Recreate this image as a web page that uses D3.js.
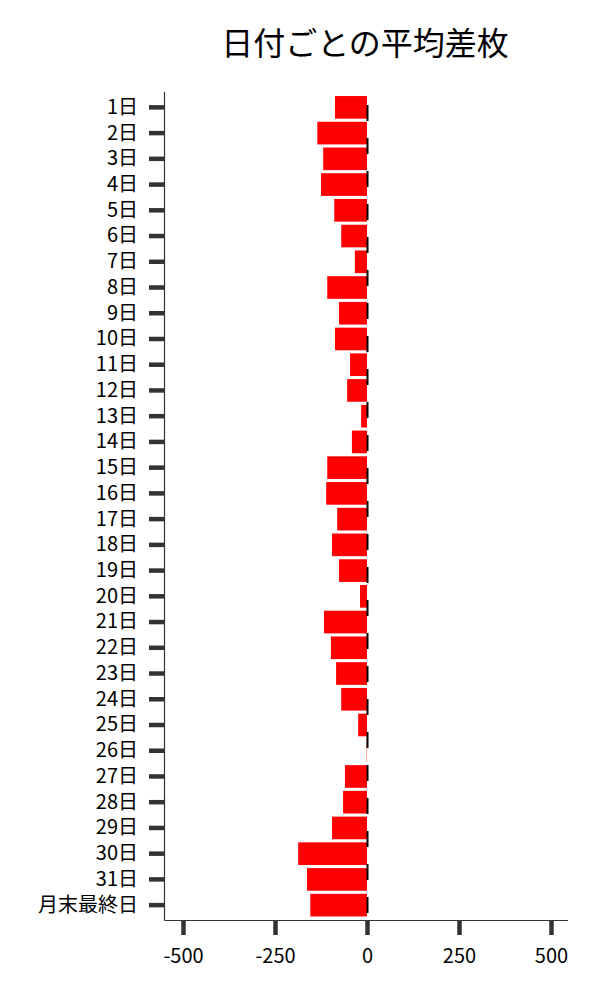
<!DOCTYPE html>
<html><head><meta charset="utf-8">
<script src="https://cdn.jsdelivr.net/npm/d3@7"></script>
<style>body{margin:0;background:#fff}</style>
</head><body><div id="chart"></div>
<script>
const categories = ["1日","2日","3日","4日","5日","6日","7日","8日","9日","10日","11日","12日","13日","14日","15日","16日","17日","18日","19日","20日","21日","22日","23日","24日","25日","26日","27日","28日","29日","30日","31日","月末最終日"];
const values = [-87,-135,-119,-125,-89,-70,-33,-108,-76,-87,-46,-54,-16,-41,-108,-111,-81,-95,-76,-19,-117,-98,-84,-70,-24,-1,-60,-65,-95,-187,-163,-154];
const xTicks = [-500,-250,0,250,500];
const title = "日付ごとの平均差枚";

const W = 600, H = 1000;
const font = "'Noto Sans CJK JP','Noto Sans',sans-serif";
const svg = d3.select("#chart").append("svg").attr("width", W).attr("height", H);

const x = d3.scaleLinear().domain([-500, 500]).range([183, 551]);
const y = d3.scaleBand().domain(categories).range([94.5, 918]).paddingInner(0.12).paddingOuter(0.06);

svg.append("text").attr("x", 365).attr("y", 55).attr("text-anchor", "middle")
  .attr("font-family", font).attr("font-size", 32).attr("fill", "#000").text(title);

// bars
svg.append("g").selectAll("rect").data(categories).join("rect")
  .attr("x", (d, i) => x(Math.min(0, values[i])))
  .attr("y", d => y(d))
  .attr("width", (d, i) => Math.abs(x(values[i]) - x(0)))
  .attr("height", y.bandwidth())
  .attr("fill", "#ff0000");

// zero dashed line
svg.append("line").attr("x1", x(0) + 0.5).attr("x2", x(0) + 0.5).attr("y1", 92).attr("y2", 920)
  .attr("stroke", "#000").attr("stroke-width", 2)
  .attr("stroke-dasharray", "16,17").attr("stroke-dashoffset", 20);

// spines
svg.append("line").attr("x1", 164.5).attr("x2", 164.5).attr("y1", 92).attr("y2", 920.5)
  .attr("stroke", "#333").attr("stroke-width", 1.2);
svg.append("line").attr("x1", 164.5).attr("x2", 568).attr("y1", 920.5).attr("y2", 920.5)
  .attr("stroke", "#333").attr("stroke-width", 1.2);

// y axis
const yAxis = d3.axisLeft(y).tickSize(15).tickPadding(11);
const gy = svg.append("g").attr("transform", "translate(164,0)").call(yAxis);
gy.select(".domain").remove();
gy.selectAll(".tick line").attr("stroke", "#333").attr("stroke-width", 4.5);
gy.selectAll(".tick text").attr("font-family", font).attr("font-size", 20).attr("fill", "#000");

// x axis
const xAxis = d3.axisBottom(x).tickValues(xTicks).tickSize(15).tickPadding(14).tickFormat(d => String(d));
const gx = svg.append("g").attr("transform", "translate(0,920)").call(xAxis);
gx.select(".domain").remove();
gx.selectAll(".tick line").attr("stroke", "#333").attr("stroke-width", 4.5);
gx.selectAll(".tick text").attr("font-family", font).attr("font-size", 20).attr("fill", "#000");
</script>
</body></html>
